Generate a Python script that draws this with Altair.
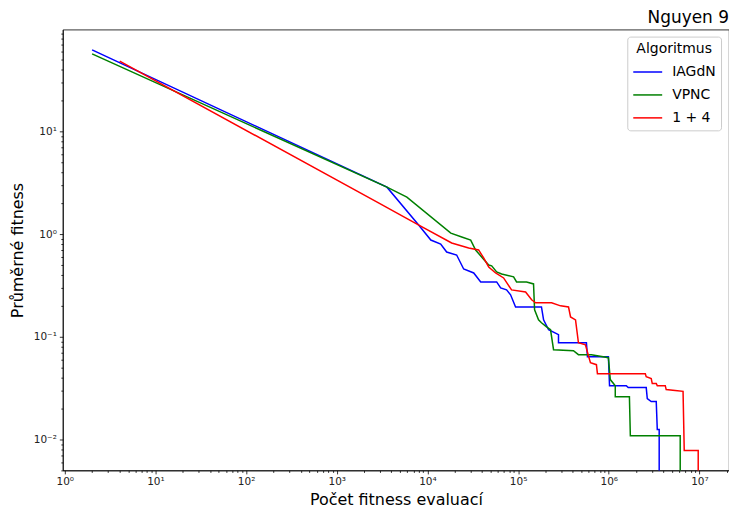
import altair as alt
import pandas as pd

# IAGdN
iag_x = [2, 3575, 8040, 10900, 14000, 16300, 21000, 25100, 32400, 38700, 58000, 64200, 74600, 82600,
         93800, 181000, 191000, 217000, 279000, 279000, 567000, 582000, 991000, 1020000, 1560000,
         1640000, 2590000, 2660000, 2940000, 3340000, 3430000, 3600000, 3600000]
iag_y = [62.1, 2.86, 1.22, 0.874, 0.80, 0.668, 0.625, 0.457, 0.418, 0.342, 0.342, 0.299, 0.286, 0.256,
         0.195, 0.195, 0.146, 0.117, 0.105, 0.0874, 0.0874, 0.064, 0.064, 0.0334, 0.0334,
         0.032, 0.032, 0.025, 0.0234, 0.0234, 0.0125, 0.0125, 0.001]

# VPNC
vpnc_x = [2, 3575, 5930, 18100, 23900, 30000, 34000, 39600, 47400, 51100, 58000, 65800, 89200, 96200,
          124000, 148000, 152000, 168000, 181000, 206000, 228000, 246000, 408000, 463000, 644000,
          991000, 1040000, 1180000, 1180000, 1690000, 1730000, 6140000, 6140000]
vpnc_y = [56.8, 2.86, 2.29, 1.02, 0.935, 0.874, 0.70, 0.598, 0.50, 0.49, 0.428, 0.409, 0.383, 0.342,
          0.342, 0.327, 0.183, 0.146, 0.137, 0.125, 0.117, 0.0748, 0.0731, 0.0669, 0.0669,
          0.0625, 0.0383, 0.0334, 0.0261, 0.0261, 0.0109, 0.0109, 0.001]

# 1 + 4
r_x = [4.03, 2920, 8040, 18500, 28500, 36700, 41700, 47400, 56500, 69200, 84700, 121000, 141000,
       156000, 234000, 294000, 360000, 379000, 430000, 463000, 553000, 597000, 628000, 731000, 750000,
       2530000, 2590000, 2940000, 3020000, 3340000, 3430000, 4200000, 4300000, 5400000, 6600000,
       6800000, 9700000, 9700000]
r_y = [48.2, 2.0, 1.22, 0.818, 0.731, 0.70, 0.585, 0.478, 0.418, 0.374, 0.286, 0.273, 0.229,
       0.214, 0.214, 0.20, 0.195, 0.156, 0.146, 0.0874, 0.0836, 0.0654, 0.056, 0.0535, 0.0437,
       0.0437, 0.0409, 0.0391, 0.035, 0.035, 0.0334, 0.0334, 0.0306, 0.0300, 0.0294,
       0.00781, 0.00781, 0.001]

algos = ["IAGdN", "VPNC", "1 + 4"]
colors = ["#0000ff", "#008000", "#ff0000"]

rows = []
for name, xs, ys in [("IAGdN", iag_x, iag_y), ("VPNC", vpnc_x, vpnc_y), ("1 + 4", r_x, r_y)]:
    for i, (a, b) in enumerate(zip(xs, ys)):
        rows.append({"x": a, "y": b, "Algoritmus": name, "i": i})
df = pd.DataFrame(rows)

sup = {-3: "⁻³", -2: "⁻²", -1: "⁻¹", 0: "⁰", 1: "¹", 2: "²", 3: "³", 4: "⁴", 5: "⁵", 6: "⁶", 7: "⁷"}

x_vals = [k * 10.0 ** e for e in range(0, 8) for k in range(1, 10) if k * 10.0 ** e <= 2.1e7]
y_vals = [k * 10.0 ** e for e in range(-3, 2) for k in range(1, 10) if 0.005 <= k * 10.0 ** e <= 97]


def label_expr(exps):
    s = "''"
    for e in reversed(exps):
        s = f"datum.value == {10.0 ** e!r} ? '10{sup[e]}' : ({s})"
    return s


major_test = "abs(log(datum.value)/LN10 - round(log(datum.value)/LN10)) < 1e-6"
FONT = "DejaVu Sans"

axis_common = dict(
    grid=False,
    domainColor="#000000",
    domainWidth=0.8,
    tickColor="#000000",
    tickWidth=0.8,
    tickSize={"condition": {"test": major_test, "value": 3.5}, "value": 2},
    labelFont=FONT,
    labelFontSize=10.5,
    labelColor="#222222",
    titleFont=FONT,
    titleFontSize=16,
    titleFontWeight="normal",
    titleColor="#000000",
    labelFlush=False,
    labelOverlap=False,
)

chart = alt.Chart(df).mark_line(strokeWidth=1.5, clip=True).encode(
    x=alt.X("x:Q", scale=alt.Scale(type="log", domain=[0.951, 2.12e7], nice=False),
            axis=alt.Axis(values=x_vals, labelExpr=label_expr(list(range(0, 8))),
                          title="Počet fitness evaluací", titlePadding=4, labelPadding=3, **axis_common)),
    y=alt.Y("y:Q", scale=alt.Scale(type="log", domain=[0.005, 97.8], nice=False),
            axis=alt.Axis(values=y_vals, labelExpr=label_expr(list(range(-2, 2))),
                          title="Průměrné fitness", titlePadding=8, labelPadding=3, **axis_common)),
    color=alt.Color("Algoritmus:N", sort=algos,
                    scale=alt.Scale(domain=algos, range=colors),
                    legend=alt.Legend(orient="none", legendX=566, legendY=7,
                                      symbolType="stroke", symbolSize=841, symbolStrokeWidth=1.5,
                                      titleFont=FONT, titleFontSize=14, titleFontWeight="normal",
                                      titleColor="#000000", titleAnchor="middle", titlePadding=1,
                                      labelFont=FONT, labelFontSize=14, labelColor="#000000",
                                      strokeColor="#cccccc", fillColor="#ffffff", cornerRadius=3,
                                      padding=5, rowPadding=-4, labelOffset=9)),
    order=alt.Order("i:Q"),
).properties(
    width=668,
    height=442,
    title=alt.TitleParams("Nguyen 9", anchor="end", font=FONT, fontSize=17,
                          fontWeight="normal", color="#000000", offset=1),
    autosize=alt.AutoSizeParams(type="none"),
    padding={"left": 63, "top": 29, "right": 0, "bottom": 37},
).configure_view(stroke="#000000", strokeWidth=0.8)

chart.save("out.html", embed_options={"renderer": "svg", "actions": False})
